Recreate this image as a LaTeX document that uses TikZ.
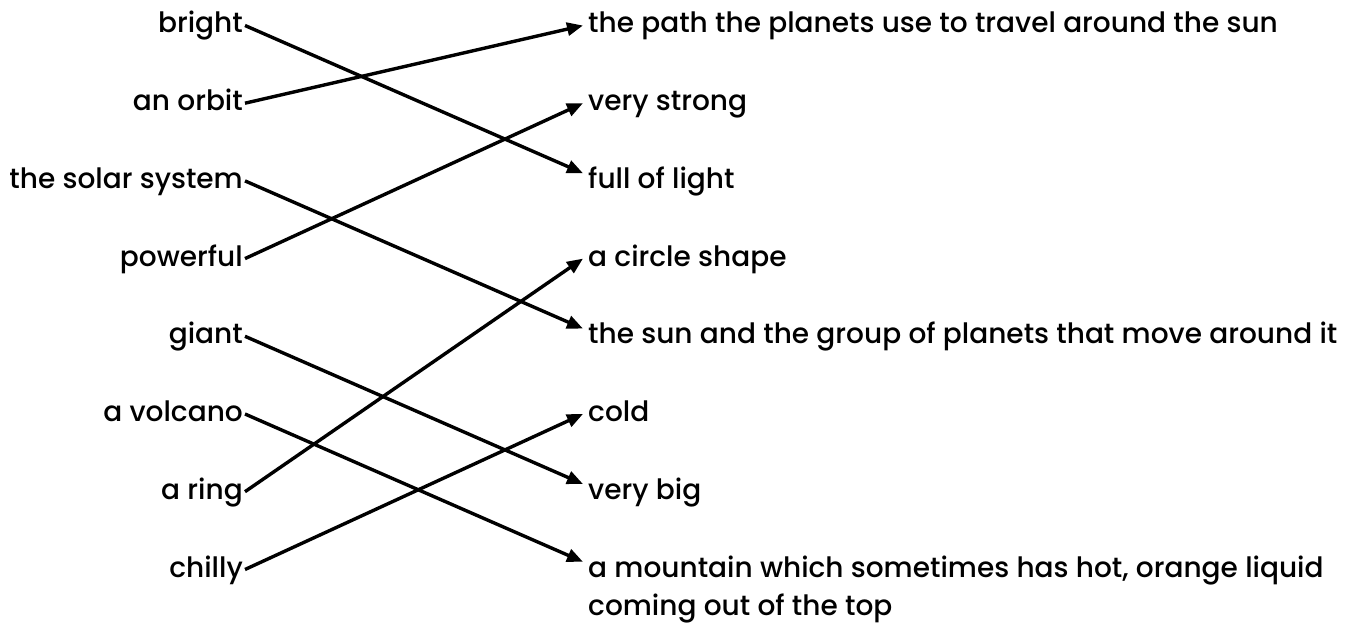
\documentclass[tikz,border=0pt]{standalone}
\usepackage{fontspec}
\setmainfont{Poppins}[UprightFont=* Medium]
\usetikzlibrary{arrows.meta}
\begin{document}
\begin{tikzpicture}[x=1pt,y=-1pt,
  lab/.style={font=\fontsize{28}{33}\selectfont, inner xsep=2pt, inner ysep=0pt, text height=15pt, text depth=0pt},
  lft/.style={lab, anchor=base east},
  rgt/.style={lab, anchor=base west, inner xsep=5pt},
  conn/.style={line width=3.4pt, -{Triangle[length=16pt,width=13pt]}}
]
\useasboundingbox (0,0) rectangle (1350,628);
% left column
\node[lft] (bright) at (245,33) {bright};
\node[lft] (orbit) at (245,110.7) {an orbit};
\node[lft] (solar) at (245,188.4) {the solar system};
\node[lft] (powerful) at (245,266.1) {powerful};
\node[lft] (giant) at (245,343.8) {giant};
\node[lft] (volcano) at (245,421.5) {a volcano};
\node[lft] (ring) at (245,499.2) {a ring};
\node[lft] (chilly) at (245,577) {chilly};
% right column
\node[rgt] (path) at (583,33) {the path the planets use to travel around the sun};
\node[rgt] (strong) at (583,110.7) {very strong};
\node[rgt] (light) at (583,188.4) {full of light};
\node[rgt] (circle) at (583,266.1) {a circle shape};
\node[rgt] (group) at (583,343.8) {the sun and the group of planets that move around it};
\node[rgt] (cold) at (583,421.5) {cold};
\node[rgt] (big) at (583,499.2) {very big};
\node[rgt] (mountain) at (583,577) {a mountain which sometimes has hot, orange liquid};
\node[rgt] (mountainb) at (583,615) {coming out of the top};
% connectors
\draw[conn] (bright.east) -- (light.north west);
\draw[conn] (orbit.east) -- (path.west);
\draw[conn] (solar.east) -- (group.north west);
\draw[conn] (powerful.east) -- (strong.west);
\draw[conn] (giant.east) -- (big.north west);
\draw[conn] (volcano.east) -- (mountain.north west);
\draw[conn] (ring.east) -- (circle.west);
\draw[conn] (chilly.east) -- (cold.west);
\end{tikzpicture}
\end{document}
